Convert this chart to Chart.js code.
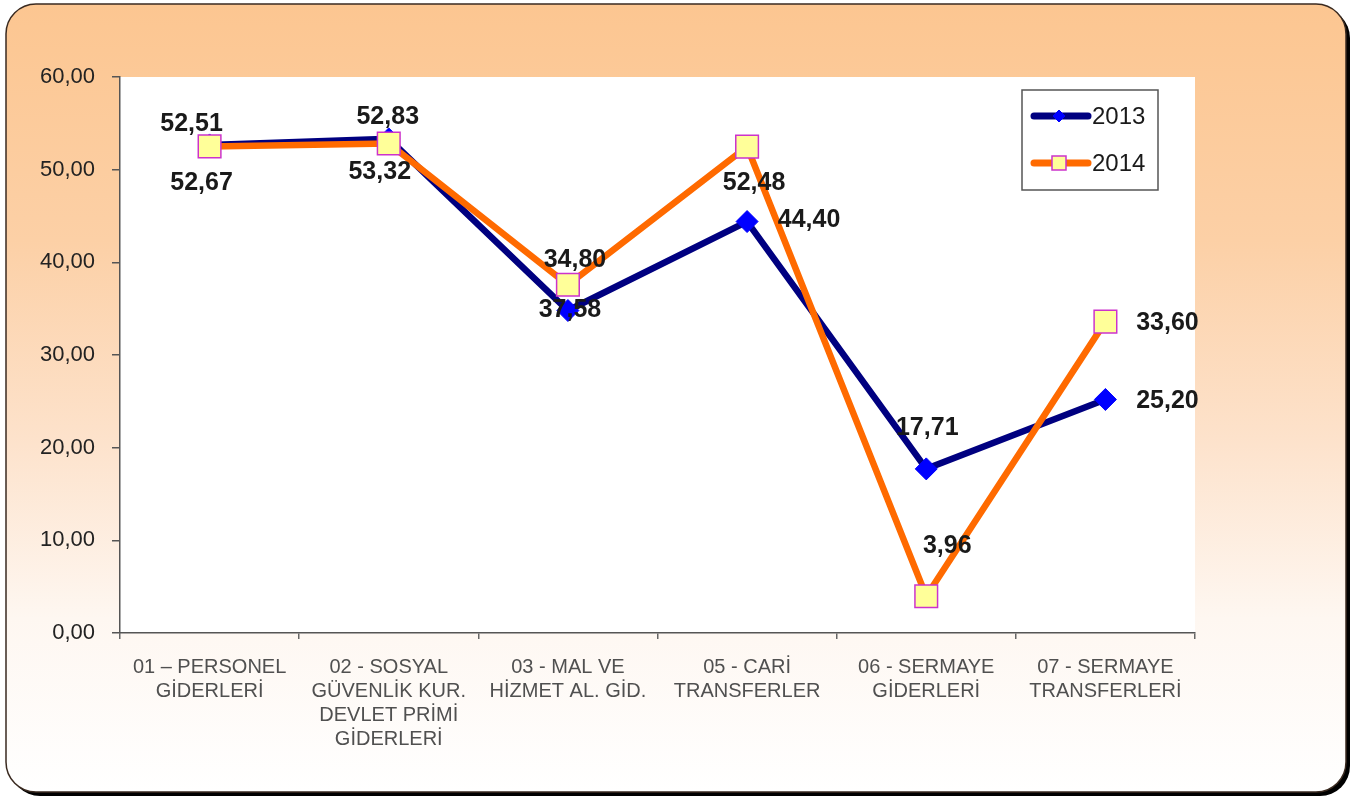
<!DOCTYPE html>
<html>
<head>
<meta charset="utf-8">
<script src="https://cdn.jsdelivr.net/npm/chart.js@4.4.1/dist/chart.umd.min.js"></script>
<style>
  html, body { margin: 0; padding: 0; background: #ffffff; }
  #wrap { width: 1371px; height: 801px; position: relative; }
</style>
</head>
<body>
<div id="wrap"><canvas id="c" width="1371" height="801"></canvas></div>
<script>
const categories = [
  ["01 – PERSONEL", "GİDERLERİ"],
  ["02 - SOSYAL", "GÜVENLİK KUR.", "DEVLET PRİMİ", "GİDERLERİ"],
  ["03 - MAL VE", "HİZMET AL. GİD."],
  ["05 - CARİ", "TRANSFERLER"],
  ["06 - SERMAYE", "GİDERLERİ"],
  ["07 - SERMAYE", "TRANSFERLERİ"]
];
const seriesNames = ["2013", "2014"];
const values2013 = [52.67, 53.32, 34.80, 44.40, 17.71, 25.20];
const values2014 = [52.51, 52.83, 37.58, 52.48, 3.96, 33.60];
const yTicks = [0, 10, 20, 30, 40, 50, 60];

const fmt = v => v.toFixed(2).replace('.', ',');

// label placement offsets (layout only)
const labelOffsets = [
  [[-8, 38], [-9, 33], [7, -50], [62, -1], [1, -41], [62, 2]],      // 2013
  [[-18, -22], [-1, -26], [2, 25], [7, 36], [21, -50], [62, 1]]   // 2014
];

const bgPlugin = {
  id: 'bg',
  beforeDraw(chart) {
    const ctx = chart.ctx;
    const x = 6, y = 4, w = 1340, h = 788, r = 30;
    function path(ox, oy) {
      ctx.beginPath();
      ctx.moveTo(x + r + ox, y + oy);
      ctx.lineTo(x + w - r + ox, y + oy);
      ctx.arcTo(x + w + ox, y + oy, x + w + ox, y + r + oy, r);
      ctx.lineTo(x + w + ox, y + h - r + oy);
      ctx.arcTo(x + w + ox, y + h + oy, x + w - r + ox, y + h + oy, r);
      ctx.lineTo(x + r + ox, y + h + oy);
      ctx.arcTo(x + ox, y + h + oy, x + ox, y + h - r + oy, r);
      ctx.lineTo(x + ox, y + r + oy);
      ctx.arcTo(x + ox, y + oy, x + r + ox, y + oy, r);
      ctx.closePath();
    }
    ctx.save();
    ctx.fillStyle = '#ffffff';
    ctx.fillRect(0, 0, chart.width, chart.height);
    path(4, 4);
    ctx.fillStyle = '#000000';
    ctx.fill();
    path(0, 0);
    const g = ctx.createLinearGradient(0, y, 0, y + h);
    g.addColorStop(0, '#fcc691');
    g.addColorStop(0.3, '#fcd0a6');
    g.addColorStop(0.55, '#fde2cb');
    g.addColorStop(0.78, '#fef7f1');
    g.addColorStop(1, '#ffffff');
    ctx.fillStyle = g;
    ctx.fill();
    ctx.lineWidth = 1.5;
    ctx.strokeStyle = '#3a2a20';
    ctx.stroke();
    const a = chart.chartArea;
    ctx.fillStyle = '#ffffff';
    ctx.fillRect(a.left, a.top, a.right - a.left, a.bottom - a.top);
    ctx.restore();
  }
};

const labelPlugin = {
  id: 'vlabels',
  afterDatasetsDraw(chart) {
    const ctx = chart.ctx;
    ctx.save();
    ctx.font = 'bold 25px "Liberation Sans", Arial, sans-serif';
    ctx.fillStyle = '#1a1a1a';
    ctx.textAlign = 'center';
    ctx.textBaseline = 'middle';
    chart.data.datasets.forEach((ds, di) => {
      const meta = chart.getDatasetMeta(di);
      meta.data.forEach((pt, i) => {
        const off = labelOffsets[di][i];
        ctx.fillText(fmt(ds.data[i]), pt.x + off[0], pt.y + off[1]);
      });
    });
    ctx.restore();
  }
};

const legendPlugin = {
  id: 'boxlegend',
  afterDraw(chart) {
    const ctx = chart.ctx;
    ctx.save();
    const bx = 1022, by = 90, bw = 136, bh = 100;
    ctx.fillStyle = '#ffffff';
    ctx.fillRect(bx, by, bw, bh);
    ctx.strokeStyle = '#555555';
    ctx.lineWidth = 1.5;
    ctx.strokeRect(bx, by, bw, bh);
    chart.data.datasets.forEach((ds, di) => {
      const cy = by + 26 + di * 47;
      const mx = bx + 37;
      ctx.strokeStyle = ds.borderColor;
      ctx.lineWidth = 7;
      ctx.lineCap = 'round';
      ctx.beginPath();
      ctx.moveTo(bx + 12, cy);
      ctx.lineTo(bx + 66, cy);
      ctx.stroke();
      ctx.fillStyle = ds.pointBackgroundColor;
      ctx.strokeStyle = ds.pointBorderColor;
      ctx.lineWidth = ds.pointBorderWidth;
      ctx.lineCap = 'butt';
      ctx.beginPath();
      if (ds.pointStyle === 'rectRot') {
        ctx.moveTo(mx, cy - 6); ctx.lineTo(mx + 6, cy); ctx.lineTo(mx, cy + 6); ctx.lineTo(mx - 6, cy);
      } else {
        ctx.rect(mx - 7, cy - 7, 14, 14);
      }
      ctx.closePath();
      ctx.fill();
      ctx.stroke();
      ctx.fillStyle = '#1a1a1a';
      ctx.font = '24px "Liberation Sans", Arial, sans-serif';
      ctx.textAlign = 'left';
      ctx.textBaseline = 'middle';
      ctx.fillText(seriesNames[di], bx + 70, cy + 1);
    });
    ctx.restore();
  }
};

new Chart(document.getElementById('c'), {
  type: 'line',
  data: {
    labels: categories,
    datasets: [
      {
        label: seriesNames[0],
        data: values2013,
        borderColor: '#000080',
        borderWidth: 6.5,
        pointStyle: 'rectRot',
        pointRadius: 11,
        pointHoverRadius: 11,
        pointBackgroundColor: '#0000ff',
        pointBorderColor: '#0000ff',
        pointBorderWidth: 1,
        tension: 0,
        order: 2
      },
      {
        label: seriesNames[1],
        data: values2014,
        borderColor: '#ff6a00',
        borderWidth: 6.5,
        pointStyle: 'rect',
        pointRadius: 16,
        pointHoverRadius: 16,
        pointBackgroundColor: '#ffff99',
        pointBorderColor: '#cc33cc',
        pointBorderWidth: 1.5,
        tension: 0,
        order: 1
      }
    ]
  },
  options: {
    responsive: false,
    animation: false,
    events: [],
    layout: { padding: { left: 0, top: 77, right: 176, bottom: 0 } },
    plugins: {
      legend: { display: false },
      tooltip: { enabled: false }
    },
    scales: {
      x: {
        type: 'category',
        offset: true,
        afterFit(scale) { scale.height = 801 - 633; },
        grid: {
          offset: true,
          drawOnChartArea: false,
          drawTicks: true,
          tickLength: 6,
          color: '#666666',
          lineWidth: 1.5
        },
        border: { color: '#555555', width: 1.5 },
        ticks: {
          maxRotation: 0,
          minRotation: 0,
          autoSkip: false,
          padding: 16,
          color: '#505050',
          font: { family: '"Liberation Sans", Arial, sans-serif', size: 20, lineHeight: 1.2 }
        }
      },
      y: {
        min: 0,
        max: 60,
        afterFit(scale) { scale.width = 120; },
        afterBuildTicks(scale) { scale.ticks = yTicks.map(v => ({ value: v })); },
        grid: {
          drawOnChartArea: false,
          drawTicks: true,
          tickLength: 8,
          color: '#555555',
          lineWidth: 1.5
        },
        border: { color: '#555555', width: 1.5 },
        ticks: {
          padding: 17,
          color: '#222222',
          font: { family: '"Liberation Sans", Arial, sans-serif', size: 22 },
          callback: v => fmt(v)
        }
      }
    }
  },
  plugins: [bgPlugin, labelPlugin, legendPlugin]
});
</script>
</body>
</html>
